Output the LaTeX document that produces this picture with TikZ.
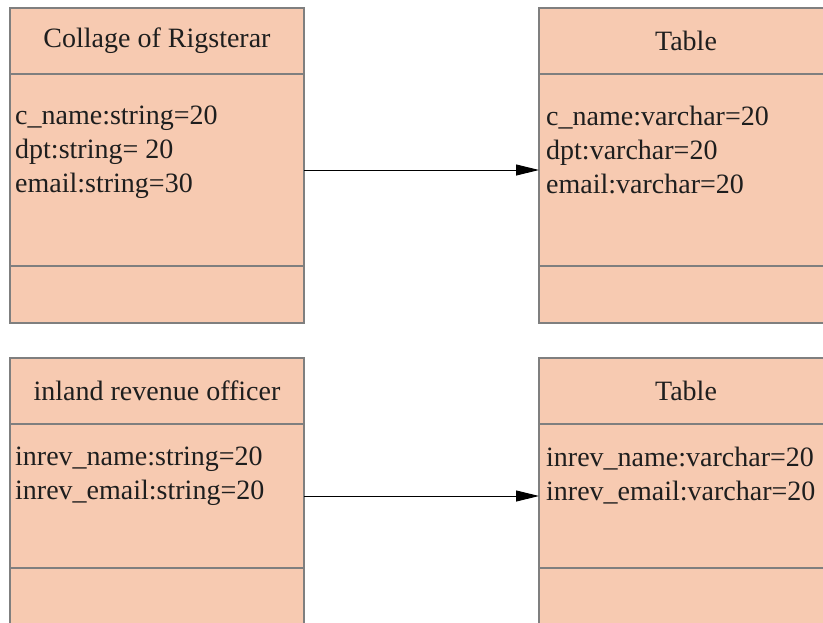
\documentclass[tikz,border=0pt]{standalone}
\usepackage{fontspec}
\setmainfont{Liberation Serif}
\usetikzlibrary{arrows.meta, positioning}
\definecolor{classfill}{HTML}{F7CAB1}
\definecolor{classborder}{HTML}{7F7F7F}
\definecolor{classtext}{HTML}{1E1E1E}

\begin{document}
\begin{tikzpicture}[x=1pt, y=1pt,
      headbox/.style={draw=classborder, fill=classfill, line width=1.3pt,
        minimum width=294pt, minimum height=66pt, inner sep=0pt, outer sep=0pt,
        text=classtext, font=\fontsize{28}{34}\selectfont},
      attrbox/.style={draw=classborder, fill=classfill, line width=1.3pt,
        minimum width=294pt, inner sep=0pt, outer sep=0pt},
      opbox/.style={attrbox, minimum height=57pt},
      attrtext/.style={align=left, inner sep=0pt, text=classtext,
        font=\fontsize{28}{34}\selectfont},
      >={Triangle[length=23pt, width=11pt]}
    ]
      \path[use as bounding box, clip] (0,0) rectangle (823,-622);
      % first row
      \node[headbox] (reg) at (157,-41) {Collage of Rigsterar};
      \node[attrbox, minimum height=192pt, below=0pt of reg] (regattr) {};
      \node[opbox, below=0pt of regattr] (regops) {};
      \node[headbox, right=235pt of reg] (tab) {Table};
      \node[attrbox, minimum height=192pt, below=0pt of tab] (tabattr) {};
      \node[opbox, below=0pt of tabattr] (tabops) {};
      \node[attrtext, below right=32pt and 5pt of regattr.north west] (regtext)
        {c\_name:string=20\\dpt:string= 20\\email:string=30};
      \node[attrtext, below right=32pt and 7pt of tabattr.north west] (tabtext)
        {c\_name:varchar=20\\dpt:varchar=20\\email:varchar=20};
      \draw[->, line width=0.9pt] (regattr.east) -- (tabattr.west);
      % second row
      \node[headbox, below=35pt of regops] (iro) {inland revenue officer};
      \node[attrbox, minimum height=144pt, below=0pt of iro] (iroattr) {};
      \node[opbox, below=0pt of iroattr] (iroops) {};
      \node[headbox, right=235pt of iro] (tabtwo) {Table};
      \node[attrbox, minimum height=144pt, below=0pt of tabtwo] (tabtwoattr) {};
      \node[opbox, below=0pt of tabtwoattr] (tabtwoops) {};
      \node[attrtext, below right=23pt and 5pt of iroattr.north west] (irotext)
        {inrev\_name:string=20\\inrev\_email:string=20};
      \node[attrtext, below right=23pt and 7pt of tabtwoattr.north west] (tabtwotext)
        {inrev\_name:varchar=20\\inrev\_email:varchar=20};
      \draw[->, line width=0.9pt] (iroattr.east) -- (tabtwoattr.west);
    \end{tikzpicture}
\end{document}
